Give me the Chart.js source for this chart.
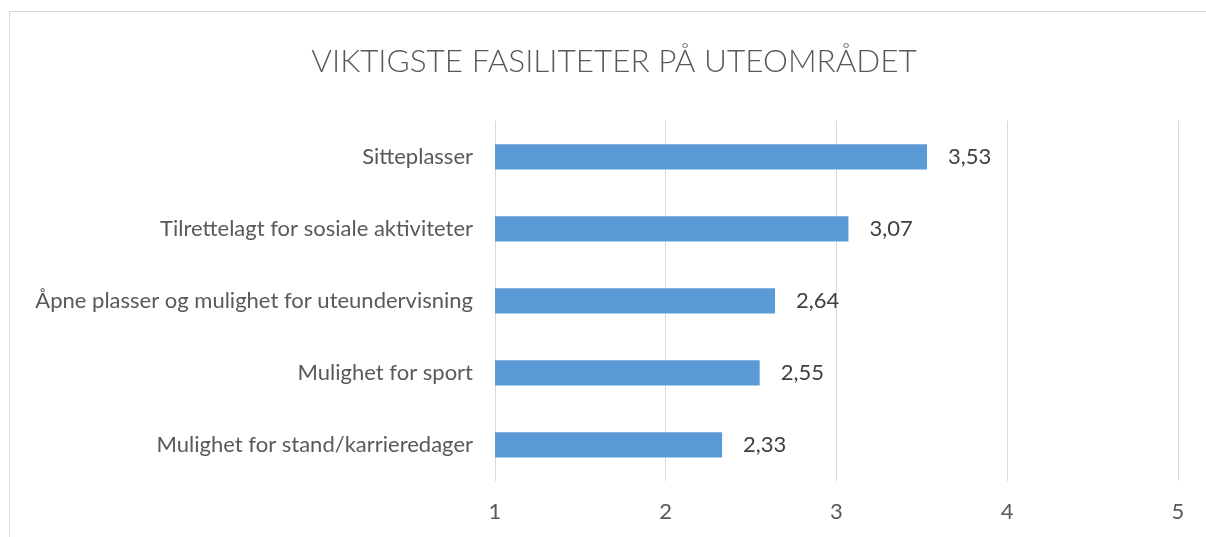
<!DOCTYPE html>
<html>
<head>
<meta charset="utf-8">
<script src="https://cdn.jsdelivr.net/npm/chart.js@4/dist/chart.umd.min.js"></script>
<style>
  html, body { margin: 0; padding: 0; background: #fff; overflow: hidden; width: 1206px; height: 537px; }
  #frame { position: absolute; left: 9px; top: 11px; width: 1300px; height: 700px; border: 1px solid #d9d9d9; box-sizing: border-box; }
  #c { position: absolute; left: 0; top: 0; }
</style>
</head>
<body>
<div id="frame"></div>
<canvas id="c" width="1206" height="537"></canvas>
<script>
const title = 'VIKTIGSTE FASILITETER PÅ UTEOMRÅDET';
const categories = [
  'Sitteplasser',
  'Tilrettelagt for sosiale aktiviteter',
  'Åpne plasser og mulighet for uteundervisning',
  'Mulighet for sport',
  'Mulighet for stand/karrieredager'
];
const values = [3.53, 3.07, 2.64, 2.55, 2.33];
const xTicks = [1, 2, 3, 4, 5];

const FONT = 'Lato, "Open Sans", sans-serif';

const valueLabels = {
  id: 'valueLabels',
  afterDatasetsDraw(chart) {
    const ctx = chart.ctx;
    const meta = chart.getDatasetMeta(0);
    ctx.save();
    ctx.font = '22px ' + FONT;
    ctx.fillStyle = '#404040';
    ctx.textAlign = 'left';
    ctx.textBaseline = 'middle';
    meta.data.forEach((el, i) => {
      ctx.fillText(values[i].toFixed(2).replace('.', ','), el.x + 21, el.y);
    });
    ctx.restore();
  }
};

// Centre the title over the outer chart frame rather than the canvas.
const titleShift = {
  id: 'titleShift',
  afterLayout(chart) {
    if (chart.titleBlock) chart.titleBlock.left = 50;
  }
};

new Chart(document.getElementById('c'), {
  type: 'bar',
  data: {
    labels: categories,
    datasets: [{
      data: values,
      backgroundColor: '#5b9bd5',
      borderWidth: 0,
      barPercentage: 0.35,
      categoryPercentage: 1
    }]
  },
  plugins: [valueLabels, titleShift],
  options: {
    indexAxis: 'y',
    responsive: false,
    devicePixelRatio: 1,
    animation: false,
    layout: { padding: { left: 0, right: 28, top: 0, bottom: 0 } },
    plugins: {
      legend: { display: false },
      tooltip: { enabled: false },
      title: {
        display: true,
        text: title,
        color: '#595959',
        font: { family: FONT, size: 31.5, weight: '300' },
        padding: { top: 43, bottom: 40 }
      }
    },
    scales: {
      x: {
        type: 'linear',
        min: xTicks[0],
        max: xTicks[xTicks.length - 1],
        afterBuildTicks(scale) { scale.ticks = xTicks.map(v => ({ value: v })); },
        afterFit(scale) { scale.height = 56; },
        grid: { color: '#d9d9d9', lineWidth: 1, drawTicks: false },
        border: { display: false },
        ticks: {
          padding: 18,
          color: '#595959',
          font: { family: FONT, size: 22 },
          callback: v => String(v)
        }
      },
      y: {
        afterFit(scale) { scale.width = 495; },
        grid: { display: false, drawTicks: false },
        border: { display: false },
        ticks: {
          padding: 22,
          color: '#595959',
          font: { family: FONT, size: 22 }
        }
      }
    }
  }
});
</script>
</body>
</html>
